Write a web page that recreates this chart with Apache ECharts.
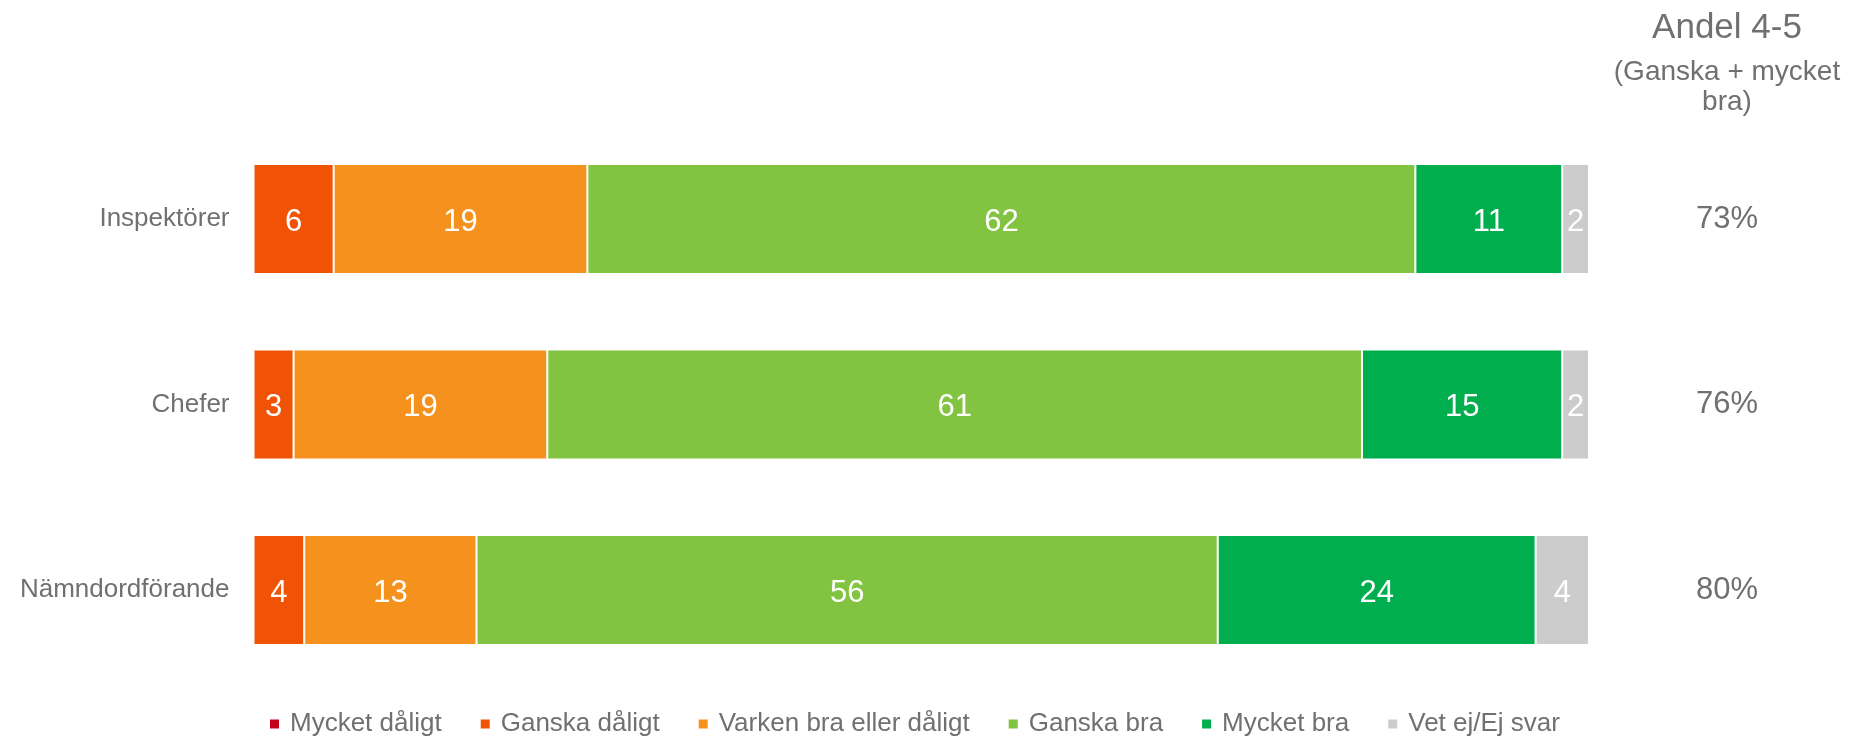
<!DOCTYPE html>
<html>
<head>
<meta charset="utf-8">
<script src="https://cdn.jsdelivr.net/npm/echarts@6/dist/echarts.min.js"></script>
<style>html,body{margin:0;padding:0;background:#fff}#c{width:1851px;height:737px}</style>
</head>
<body>
<div id="c"></div>
<script>
const categories = ['Inspektörer', 'Chefer', 'Nämndordförande'];
const seriesNames = ['Mycket dåligt', 'Ganska dåligt', 'Varken bra eller dåligt', 'Ganska bra', 'Mycket bra', 'Vet ej/Ej svar'];
const mycketDaligt = [0, 0, 0];
const ganskaDaligt = [6, 3, 3.8];
const varken = [19, 19, 12.9];
const ganskaBra = [62, 61, 55.5];
const mycketBra = [11, 15, 23.8];
const vetEj = [2, 2, 4.0];
const andel = ['73%', '76%', '80%'];
const headerTitle = 'Andel 4-5';
const headerSub1 = '(Ganska + mycket';
const headerSub2 = 'bra)';

const colors = ['#C5001A', '#F05305', '#F5921E', '#82C341', '#00AE4D', '#CCCCCC'];
const values = [mycketDaligt, ganskaDaligt, varken, ganskaBra, mycketBra, vetEj];
const FONT = 'Liberation Sans, Arial, sans-serif';
const GRAY = '#707070';

const chart = echarts.init(document.getElementById('c'), null, {renderer: 'canvas'});
chart.setOption({
  animation: false,
  backgroundColor: '#fff',
  color: colors,
  grid: {left: 253.5, right: 262, top: 126.25, bottom: 54.25, containLabel: false},
  legend: {
    data: seriesNames,
    left: 268, top: 709, padding: 0,
    icon: 'rect', itemWidth: 11, itemHeight: 11, itemGap: 37,
    selectedMode: false,
    textStyle: {fontFamily: FONT, fontSize: 26, color: GRAY, lineHeight: 30, padding: [0, 0, 0, 5]}
  },
  xAxis: {type: 'value', min: 0, max: 100, show: false},
  yAxis: [
    {type: 'category', data: categories, inverse: true,
     axisLine: {show: false}, axisTick: {show: false},
     axisLabel: {fontFamily: FONT, fontSize: 26, color: GRAY, margin: 24, padding: [12, 0, 0, 0]}},
    {type: 'category', data: andel, inverse: true, position: 'right',
     axisLine: {show: false}, axisTick: {show: false},
     axisLabel: {fontFamily: FONT, fontSize: 31, color: GRAY, margin: 138, align: 'center', padding: [12, 0, 0, 0]}}
  ],
  graphic: [
    {type: 'text', x: 1727, y: 28, style: {text: headerTitle, font: '35px ' + FONT, fill: GRAY, textAlign: 'center', textVerticalAlign: 'middle'}},
    {type: 'text', x: 1727, y: 72, style: {text: headerSub1, font: '28px ' + FONT, fill: GRAY, textAlign: 'center', textVerticalAlign: 'middle'}},
    {type: 'text', x: 1727, y: 102, style: {text: headerSub2, font: '28px ' + FONT, fill: GRAY, textAlign: 'center', textVerticalAlign: 'middle'}}
  ],
  series: seriesNames.map((name, i) => ({
    name: name,
    type: 'bar',
    stack: 'total',
    barCategoryGap: '40.7%',
    data: values[i],
    itemStyle: {color: colors[i], borderColor: '#fff', borderWidth: 1},
    label: {
      show: true, position: 'inside', offset: [0, 3],
      fontFamily: FONT, fontSize: 31, color: '#fff',
      formatter: p => p.value > 0 ? String(Math.round(p.value)) : ''
    }
  }))
});
</script>
</body>
</html>
